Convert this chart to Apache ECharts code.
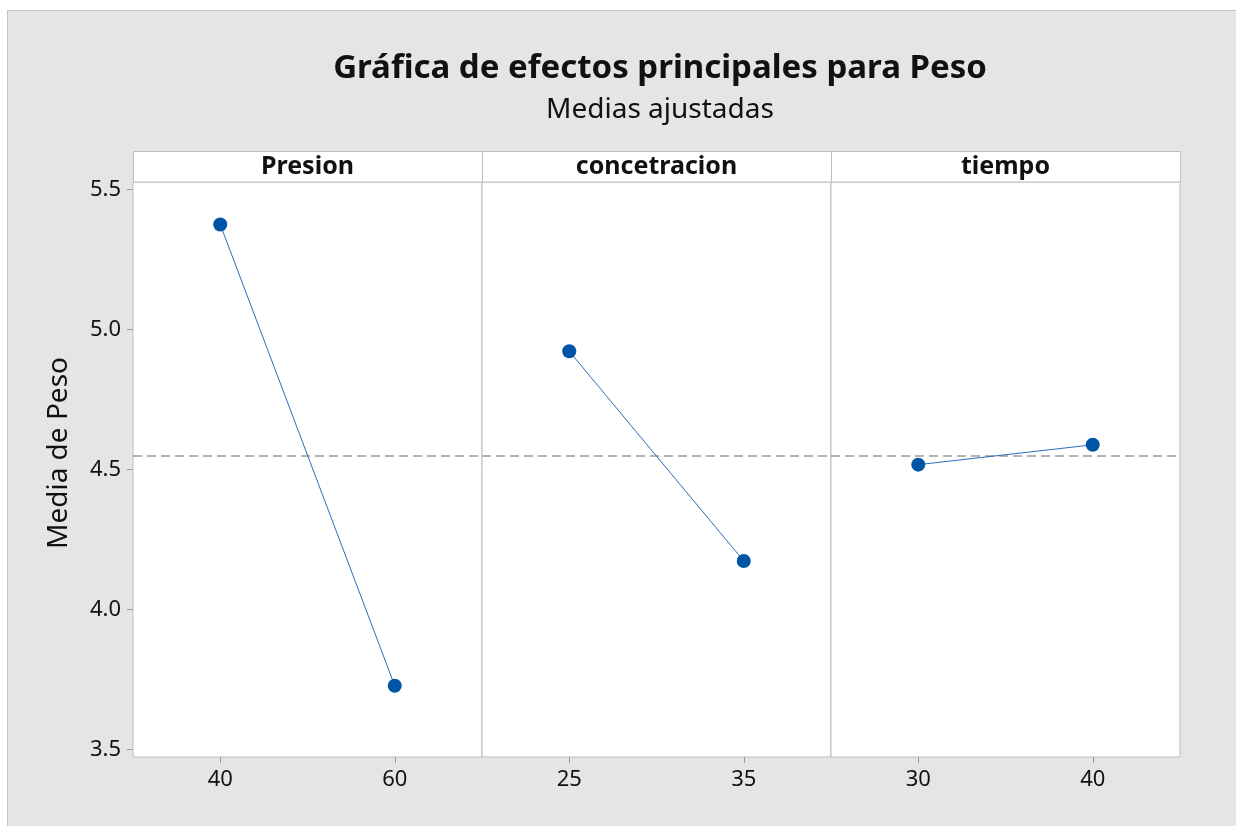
<!DOCTYPE html>
<html>
<head>
<meta charset="utf-8">
<script src="https://cdn.jsdelivr.net/npm/echarts@6/dist/echarts.min.js"></script>
<style>
  html, body { margin: 0; padding: 0; background: #fff; }
  .frame {
    position: absolute; left: 7px; top: 10px; right: 0; bottom: 0;
    background: #e5e5e5;
    border-top: 1px solid #c6c6c6;
    border-left: 1px solid #c6c6c6;
  }
  #chart { position: absolute; left: 0; top: 0; width: 1236px; height: 826px; }
</style>
</head>
<body>
<div class="frame"></div>
<div id="chart"></div>
<script>
// datos
const factors = ['Presion', 'concetracion', 'tiempo']
const levels = [['40', '60'], ['25', '35'], ['30', '40']]
const means = [[5.375, 3.727], [4.922, 4.173], [4.517, 4.588]]
const grandMean = 4.55
const yTicks = [3.5, 4.0, 4.5, 5.0, 5.5]
const yName = 'Media de Peso'

const font = '"Noto Sans", "Open Sans", sans-serif'
const plotLeft = 133
const panelW = 349
const plotTop = 182
const plotH = 575
const headTop = 151.5

const chart = echarts.init(document.getElementById('chart'))

const grids = [], xAxes = [], yAxes = [], series = [], graphics = []

factors.forEach((name, i) => {
  grids.push({
    left: plotLeft + panelW * i,
    top: plotTop,
    width: panelW,
    height: plotH,
    show: true,
    backgroundColor: '#fff',
    borderColor: '#bdbdbd',
    borderWidth: 1
  })
  xAxes.push({
    type: 'category',
    gridIndex: i,
    data: levels[i],
    boundaryGap: true,
    axisLine: { show: false },
    axisTick: { show: true, alignWithLabel: true, length: 6, lineStyle: { color: '#9a9a9a' } },
    axisLabel: { color: '#111', fontSize: 22, fontFamily: font, margin: 12 },
    splitLine: { show: false }
  })
  yAxes.push({
    type: 'value',
    gridIndex: i,
    min: 3.4725,
    max: 5.527,
    axisLine: { show: false },
    axisTick: { show: i === 0, customValues: yTicks, length: 6, lineStyle: { color: '#9a9a9a' } },
    axisLabel: {
      show: i === 0,
      customValues: yTicks,
      color: '#111',
      fontSize: 22,
      fontFamily: font,
      margin: 12,
      formatter: v => v.toFixed(1)
    },
    splitLine: { show: false }
  })
  series.push({
    type: 'line',
    xAxisIndex: i,
    yAxisIndex: i,
    data: means[i],
    symbol: 'circle',
    symbolSize: 14,
    itemStyle: { color: '#0054a6' },
    lineStyle: { color: '#2a6ebb', width: 1 },
    z: 5,
    markLine: {
      silent: true,
      symbol: 'none',
      label: { show: false },
      lineStyle: { color: '#9a9a9a', width: 1.6, type: [9, 5] },
      data: [{ yAxis: grandMean }],
      z: 3
    }
  })
  // encabezado del panel
  graphics.push({
    type: 'rect',
    shape: { x: plotLeft + panelW * i + 0.5, y: headTop, width: panelW, height: plotTop - headTop },
    style: { fill: '#fff', stroke: '#bdbdbd', lineWidth: 1 }
  })
  graphics.push({
    type: 'text',
    x: plotLeft + panelW * i + panelW / 2,
    y: (headTop + plotTop) / 2,
    style: {
      text: name,
      fill: '#111',
      font: 'bold 25px ' + font,
      textAlign: 'center',
      textVerticalAlign: 'middle'
    }
  })
})

// titulo del eje y
graphics.push({
  type: 'text',
  x: 59,
  y: 453,
  rotation: Math.PI / 2,
  style: {
    text: yName,
    fill: '#111',
    font: '28px ' + font,
    textAlign: 'center',
    textVerticalAlign: 'middle'
  }
})

chart.setOption({
  animation: false,
  backgroundColor: 'transparent',
  title: {
    text: 'Gráfica de efectos principales para Peso',
    subtext: 'Medias ajustadas',
    left: 655,
    textAlign: 'center',
    top: 47,
    itemGap: 11,
    textStyle: { color: '#111', fontSize: 33, fontWeight: 'bold', fontFamily: font },
    subtextStyle: { color: '#111', fontSize: 28, fontFamily: font }
  },
  grid: grids,
  xAxis: xAxes,
  yAxis: yAxes,
  series: series,
  graphic: graphics
})
</script>
</body>
</html>
